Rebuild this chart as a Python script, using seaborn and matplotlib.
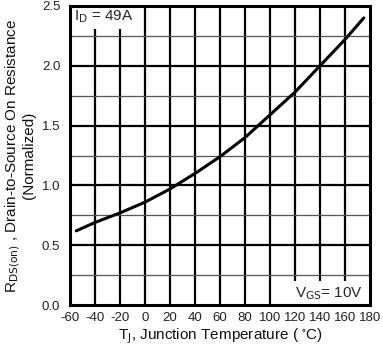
import matplotlib
matplotlib.use("Agg")
import matplotlib.pyplot as plt
import seaborn as sns
import pandas as pd
import numpy as np

# Data
temperature = [-55, -40, -20, 0, 20, 40, 60, 80, 100, 120, 140, 160, 175]
resistance = [0.62, 0.69, 0.77, 0.86, 0.97, 1.10, 1.24, 1.40, 1.59, 1.78, 2.00, 2.22, 2.40]
x_ticks = [-60, -40, -20, 0, 20, 40, 60, 80, 100, 120, 140, 160, 180]
y_ticks = [0.0, 0.5, 1.0, 1.5, 2.0, 2.5]
y_minor = [0.25, 0.75, 1.25, 1.75, 2.25]

sns.set_theme(style="white")
plt.rcParams['font.family'] = ['Liberation Sans', 'DejaVu Sans']
plt.rcParams['mathtext.default'] = 'regular'

df = pd.DataFrame({"T": temperature, "R": resistance})

fig = plt.figure(figsize=(3.83, 3.48), dpi=100)
ax = fig.add_axes([70/383, 43/348, 300/383, 299/348])

# grid
for xv in x_ticks[1:-1]:
    ax.axvline(xv, color='black', lw=1.6, zorder=1)
for yv in y_ticks[1:-1]:
    ax.axhline(yv, color='black', lw=1.6, zorder=1)
for yv in y_minor:
    ax.axhline(yv, color='#555555', lw=0.9, zorder=1)

sns.lineplot(data=df, x="T", y="R", ax=ax, color='black', lw=2.2, zorder=3)

ax.set_xlim(-60, 180)
ax.set_ylim(0, 2.5)
ax.set_xticks(x_ticks)
ax.set_yticks(y_ticks)
ax.set_xticklabels([str(v) for v in x_ticks])
ax.set_yticklabels([f"{v:.1f}" for v in y_ticks])
ax.tick_params(axis='both', length=0, labelsize=9.5, colors='#222222')
ax.tick_params(axis='x', pad=5)
ax.tick_params(axis='y', pad=7)

for s in ax.spines.values():
    s.set_color('black')
    s.set_linewidth(2.2)
    s.set_zorder(5)

ax.set_xlabel(r"T$_\mathrm{J}$, Junction Temperature ( $^{\circ}$C)", fontsize=11, color='#111111', labelpad=2)
ax.set_ylabel("R$_\\mathrm{DS(on)}$ , Drain-to-Source On Resistance\n(Normalized)",
              fontsize=11, color='#111111', labelpad=4, linespacing=1.0)

ax.text(-56.5, 2.41, r"I$_\mathrm{D}$ = 49A", fontsize=11, ha='left', va='center', zorder=4,
        bbox=dict(facecolor='white', edgecolor='none', pad=3))
ax.text(174, 0.09, r"V$_\mathrm{GS}$= 10V", fontsize=11, ha='right', va='center', zorder=4,
        bbox=dict(facecolor='white', edgecolor='none', pad=3.5))

fig.savefig("out.png", dpi=100)
